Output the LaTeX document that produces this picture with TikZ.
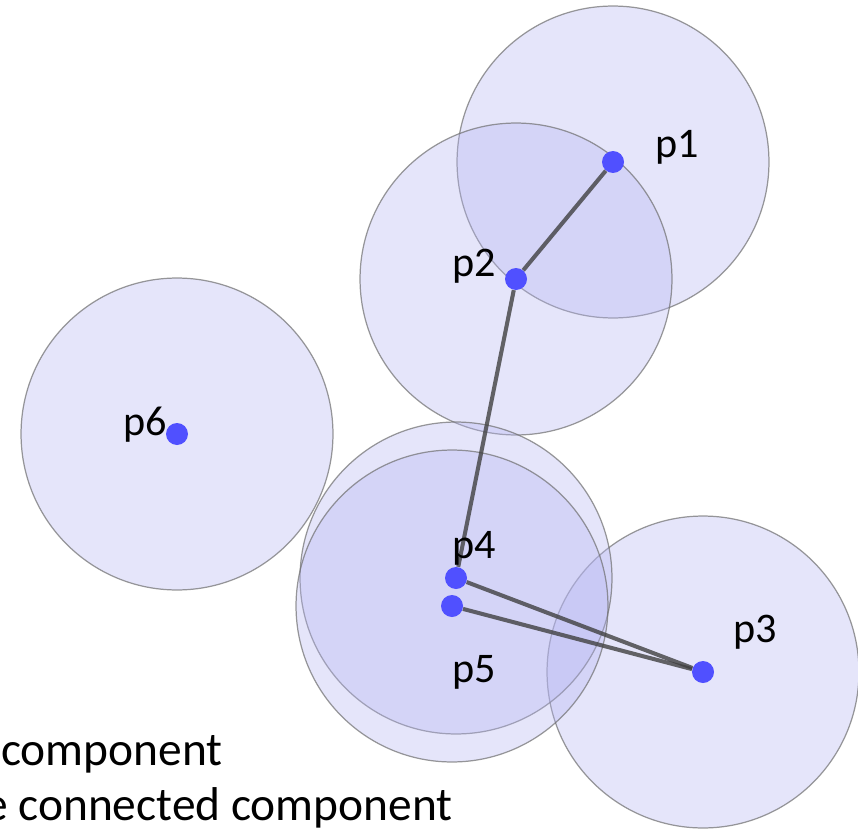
\documentclass[tikz,border=0pt]{standalone}
\usepackage{xcolor}
\usepackage{fontspec}
\setmainfont{Carlito}
\usetikzlibrary{positioning, backgrounds}

\definecolor{diskfill}{RGB}{180,180,241}
\definecolor{diskline}{RGB}{110,110,110}
\definecolor{dotblue}{RGB}{80,80,255}

\begin{document}
\begin{tikzpicture}[x=0.02cm, y=-0.02cm,
		dot/.style={circle, fill=dotblue, minimum size=0.44cm, inner sep=0pt},
		disk/.style={draw=diskline, draw opacity=0.7, line width=0.7pt,
				fill=diskfill, fill opacity=0.35},
		link/.style={draw=black!75, draw opacity=0.8, line width=2.3pt},
		lbl/.style={font=\fontsize{24}{28}\selectfont, inner sep=0pt}]
		\useasboundingbox (0,0) rectangle (858,828);

		% Points
		\node[dot] (p1) at (613,162) {};
		\node[dot] (p2) at (516,279) {};
		\node[dot] (p3) at (703,672) {};
		\node[dot] (p4) at (456,578) {};
		\node[dot] (p5) at (452,606) {};
		\node[dot] (p6) at (177,434) {};

		% Disks round every point
		\begin{pgfonlayer}{background}
			\foreach \p in {p1,p2,p3,p4,p5,p6}
				\path[disk] (\p.center) circle[radius=3.12cm];
		\end{pgfonlayer}

		% Edges
		\draw[link] (p1) -- (p2);
		\draw[link] (p2) -- (p4);
		\draw[link] (p4) -- (p3);
		\draw[link] (p5) -- (p3);

		% Labels
		\node[lbl] (l1) at (677,147) {p1};
		\node[lbl] (l2) at (474,266) {p2};
		\node[lbl] (l3) at (755,632) {p3};
		\node[lbl] (l4) at (474,548) {p4};
		\node[lbl] (l5) at (474,672) {p5};
		\node[lbl] (l6) at (145,425) {p6};

		% Text at the bottom
		\node[font=\fontsize{27}{32}\selectfont, inner sep=0pt, anchor=base east]
			(line1) at (223,765) {component};
		\node[font=\fontsize{27}{32}\selectfont, inner sep=0pt, anchor=base east]
			(line2) at (453,820) {e connected component};
	\end{tikzpicture}
\end{document}
